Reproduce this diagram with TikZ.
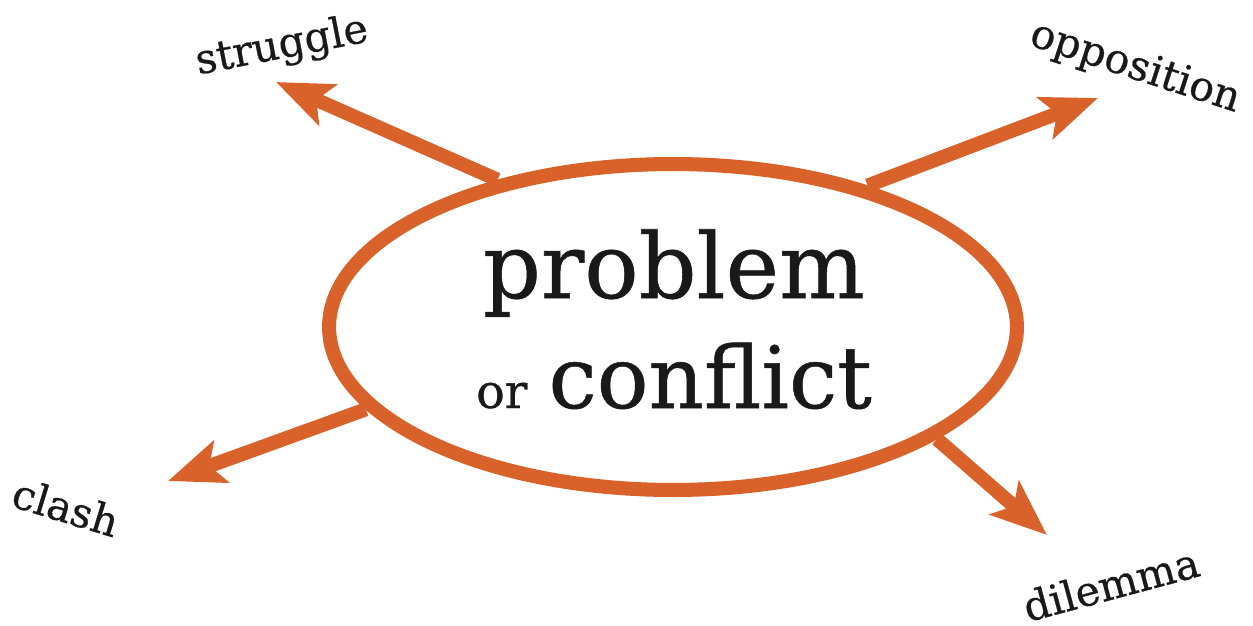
\documentclass[tikz,border=0pt]{standalone}
\usepackage{fontspec}
\setmainfont{DejaVu Serif}[FakeBold=0.6]
\usetikzlibrary{arrows.meta,shapes.geometric}
\definecolor{rust}{HTML}{D9622B}
\tikzset{
  ring/.style={ellipse, draw=rust, line width=8pt, minimum width=13.76cm, minimum height=6.52cm, inner sep=0pt},
  spoke/.style={draw=rust, line width=8pt, -{Stealth[length=32pt, width=25pt, inset=7pt]}},
  word/.style={font=\fontsize{23.5}{27}\selectfont, text=black!90, inner sep=0pt}
}
\begin{document}
\begin{tikzpicture}[x=0.02cm, y=-0.02cm]
\useasboundingbox (0,0) rectangle (1253,625);
%\draw (0,0) rectangle (1253,625);

\draw (673,327) node[ring] (pc) {};
\draw (674,298) node[anchor=base, inner sep=0pt, font=\fontsize{51.5}{58}\selectfont, text=black!90] (prob) {problem};
\draw (674,408) node[anchor=base, inner sep=0pt, text=black!90] (conf) {{\fontsize{27}{30}\selectfont or}\hspace{12pt}{\fontsize{49}{55}\selectfont conflict}};

\coordinate (t1) at (276,82);
\coordinate (t2) at (1098,98);
\coordinate (t3) at (168,481);
\coordinate (t4) at (1047,535);

\draw[spoke] (pc.140) -- (t1);
\draw[spoke] (pc.36) -- (t2);
\draw[spoke] (pc.195) -- (t3);
\draw[spoke] (pc.337) -- (t4);

\draw (282,47) node[word, rotate=11] (struggle) {struggle};
\draw (1135,68) node[word, rotate=-18] (opposition) {opposition};
\draw (66,507) node[word, rotate=-17] (clash) {clash};
\draw (1111,584) node[word, rotate=15] (dilemma) {dilemma};
\end{tikzpicture}
\end{document}
